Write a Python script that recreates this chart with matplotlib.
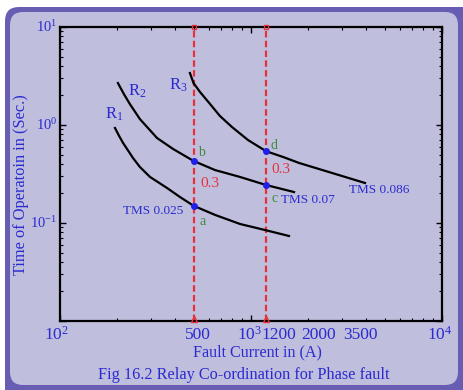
import matplotlib
matplotlib.use("Agg")
import matplotlib.pyplot as plt
from matplotlib.patches import FancyBboxPatch

plt.rcParams['font.family'] = ['Liberation Serif', 'DejaVu Serif']
plt.rcParams['mathtext.default'] = 'regular'

# curves (current in A, time in s)
r1_current = [194, 204, 214, 241, 262, 296, 363, 425, 500, 648, 876, 1184, 1581]
r1_time = [0.932, 0.772, 0.655, 0.461, 0.373, 0.295, 0.228, 0.184, 0.15, 0.121, 0.0977, 0.0848, 0.0737]
r2_current = [201, 216, 232, 262, 322, 391, 500, 648, 876, 1200, 1680]
r2_time = [2.68, 2.07, 1.64, 1.15, 0.737, 0.569, 0.43, 0.347, 0.295, 0.244, 0.207]
r3_current = [479, 500, 541, 610, 688, 795, 964, 1200, 1471, 1784, 2656, 3953]
r3_time = [3.39, 2.68, 2.17, 1.64, 1.235, 0.954, 0.703, 0.54, 0.472, 0.41, 0.324, 0.256]

# coordination points a, b, c, d
pt_names = ['a', 'b', 'c', 'd']
pt_current = [500, 500, 1200, 1200]
pt_time = [0.15, 0.43, 0.244, 0.54]

fault_currents = [500, 1200]

xtick_vals = [100, 500, 1000, 1200, 2000, 3500, 10000]
xtick_text = ['10$^2$', '500', '10$^3$', '1200', '2000', '3500', '10$^4$']
ytick_vals = [10, 1, 0.1]
ytick_text = ['10$^1$', '10$^0$', '10$^{-1}$']

BLUE = '#2a2ad0'
GREEN = '#3d8a3d'
RED = '#e8303a'
LAV = '#c0bedd'
PURPLE = '#675db3'

fig = plt.figure(figsize=(4.64, 3.90), dpi=100, facecolor='white')

# panel frame (pixel coords, origin bottom-left)
fig.patches.append(FancyBboxPatch((5, -30), 490, 413, boxstyle='round,pad=0,rounding_size=14',
                                  transform=None, fc=PURPLE, ec='none', zorder=-20))
fig.patches.append(FancyBboxPatch((10, 5), 448, 373, boxstyle='round,pad=0,rounding_size=13',
                                  transform=None, fc=LAV, ec='none', zorder=-18))

ax = fig.add_axes([60 / 464, 1 - 321 / 390, 382 / 464, 294 / 390])
ax.set_facecolor(LAV)
ax.set_xscale('log')
ax.set_yscale('log')
ax.set_xlim(100, 10000)
ax.set_ylim(0.01, 10)

for s in ax.spines.values():
    s.set_linewidth(1.6)
ax.tick_params(which='both', direction='in', top=True, right=True, labelbottom=False, labelleft=False)
ax.tick_params(which='major', length=4, width=1)
ax.tick_params(which='minor', length=2.5, width=0.8)

# relay curves
for cur, tm in [(r1_current, r1_time), (r2_current, r2_time), (r3_current, r3_time)]:
    ax.plot(cur, tm, color='black', lw=1.6, zorder=3, solid_joinstyle='round')

# fault current lines
for fc in fault_currents:
    ax.axvline(fc, color=RED, lw=1.6, ls=(0, (2.9, 1.5)), zorder=2)
    ax.plot([fc], [0.0105], marker='^', ms=5, mfc='none', mec=RED, mew=1, clip_on=False, zorder=4)
    ax.plot([fc], [10], marker='s', ms=3, mfc='none', mec=RED, mew=1, clip_on=False, zorder=4)

ax.plot(pt_current, pt_time, 'o', ms=4, color='#2020e8', zorder=5)


def note(txt, xy, off, color, size):
    ax.annotate(txt, xy=xy, xytext=off, textcoords='offset pixels', ha='center', va='center',
                color=color, fontsize=size)


for name, c, t, off in zip(pt_names, pt_current, pt_time, [(9, -16), (8, 8), (8, -13), (8, 6)]):
    note(name, (c, t), off, GREEN, 10)

note('0.3', (pt_current[0], pt_time[0]), (16, 22), RED, 11)
note('0.3', (pt_current[2], pt_time[2]), (15, 16), RED, 11)

note('TMS 0.025', (pt_current[0], pt_time[0]), (-40, -5), BLUE, 9.5)
note('TMS 0.07', (pt_current[2], pt_time[2]), (42, -15), BLUE, 9.5)
note('TMS 0.086', (r3_current[-1], r3_time[-1]), (14, -7), BLUE, 9.5)

note('R$_1$', (r1_current[0], r1_time[0]), (-1, 14), BLUE, 12)
note('R$_2$', (r2_current[0], r2_time[0]), (19, -8), BLUE, 12)
note('R$_3$', (r3_current[0], r3_time[0]), (-12, -12), BLUE, 12)

# tick labels as free text
xoffs = [-4, 4, -1, 13, 10, 6, -2]
for v, txt, dx in zip(xtick_vals, xtick_text, xoffs):
    ax.annotate(txt, xy=(v, 0), xycoords=ax.get_xaxis_transform(), xytext=(dx, -14),
                textcoords='offset pixels', ha='center', va='center', color=BLUE, fontsize=12.5,
                annotation_clip=False)
for v, txt in zip(ytick_vals, ytick_text):
    ax.annotate(txt, xy=(0, v), xycoords=ax.get_yaxis_transform(), xytext=(-3, 0),
                textcoords='offset pixels', ha='right', va='center', color=BLUE, fontsize=10.5,
                annotation_clip=False)

fig.text(257 / 464, 1 - 352 / 390, 'Fault Current in (A)', ha='center', va='center', color=BLUE, fontsize=11.6)
fig.text(21 / 464, 1 - 185 / 390, 'Time of Operatoin in (Sec.)', ha='center', va='center',
         rotation=90, color=BLUE, fontsize=11.8)
fig.text(244 / 464, 1 - 375 / 390, 'Fig 16.2 Relay Co-ordination for Phase fault', ha='center', va='center',
         color=BLUE, fontsize=11.7)

fig.savefig('out.png', dpi=100)
